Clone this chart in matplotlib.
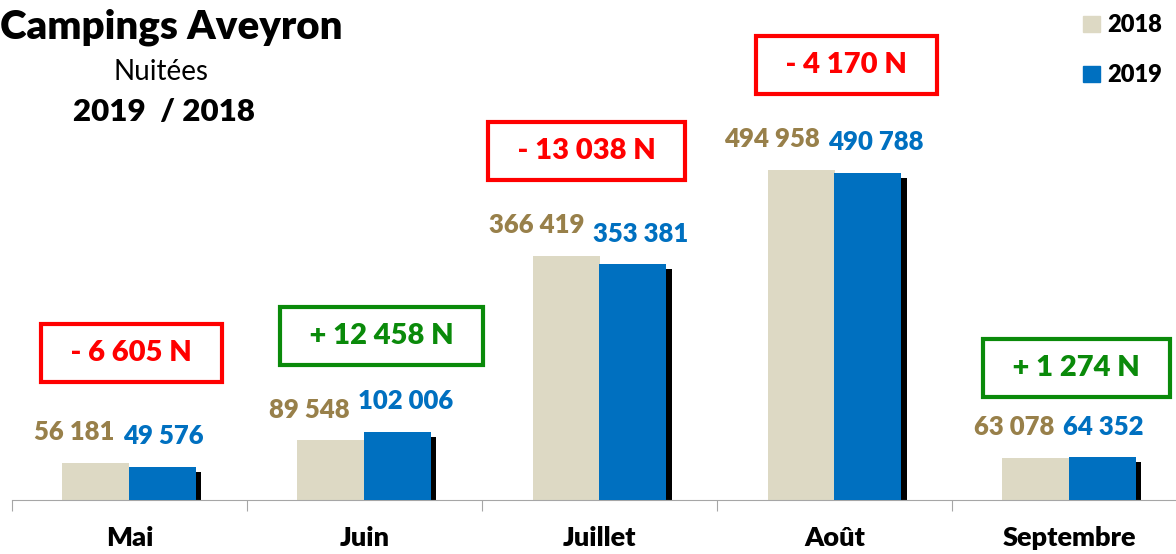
import numpy as np
import matplotlib.pyplot as plt
from matplotlib.patches import Patch

plt.rcParams['font.family'] = ['Lato', 'DejaVu Sans']

months = ['Mai', 'Juin', 'Juillet', 'Août', 'Septembre']
nuits_2018 = [56181, 89548, 366419, 494958, 63078]
nuits_2019 = [49576, 102006, 353381, 490788, 64352]

c2018 = '#DDD9C4'
c2019 = '#0070C0'
c_lab18 = '#98804A'
red = '#FF0000'
green = '#0A8A0A'
BOLD = 'heavy'

# where the difference boxes sit, in pixels from the category centre / taller bar
box_dx = [2, 17, -13, 12, 7]
box_lift = [110, 96, 105, 105, 89]


def fmt(v):
    return f"{v:,}".replace(',', ' ')


W, H = 1176, 554
fig = plt.figure(figsize=(W / 100, H / 100), dpi=100)
# baseline at y=500 px from top, 330 px for the Aout 2018 bar
px_y = 494958 / 330
px_x = 1 / 235
pt = 0.72  # points per pixel
ax = fig.add_axes([12 / W, 54 / H, (W - 12) / W, 500 / H])

x = np.arange(len(months))
bw = 67 * px_x
# shadow behind the bars
ax.bar(x + bw / 2 + 5 * px_x, np.array(nuits_2019) - 5 * px_y, bw, color='black', zorder=1)
ax.bar(x - bw / 2, nuits_2018, bw, color=c2018, zorder=2)
ax.bar(x + bw / 2, nuits_2019, bw, color=c2019, zorder=3)

for i, (a, b) in enumerate(zip(nuits_2018, nuits_2019)):
    ax.annotate(fmt(a), (i - 15 * px_x, a), xytext=(0, 22), textcoords='offset points',
                ha='right', va='center', fontsize=18.5, fontweight=BOLD, color=c_lab18,
                annotation_clip=False)
    ax.annotate(fmt(b), (i - 6 * px_x, b), xytext=(0, 22), textcoords='offset points',
                ha='left', va='center', fontsize=18.5, fontweight=BOLD, color=c2019,
                annotation_clip=False)
    d = b - a
    col = green if d > 0 else red
    txt = '  ' + ('+ ' if d > 0 else '- ') + fmt(abs(d)) + ' N  '
    ax.annotate(txt, (i, max(a, b)), xytext=(box_dx[i] * pt, box_lift[i] * pt),
                textcoords='offset points',
                ha='center', va='center', fontsize=21, fontweight=BOLD, color=col,
                annotation_clip=False,
                bbox=dict(boxstyle='square,pad=0.55', fc='white', ec=col, lw=3))

for s in ['top', 'right', 'left']:
    ax.spines[s].set_visible(False)
ax.spines['bottom'].set_color('#A6A6A6')
ax.set_yticks([])
ax.set_xticks(np.arange(-0.5, 5.5, 1))
ax.set_xticklabels([])
ax.tick_params(axis='x', which='major', length=8, color='#A6A6A6')
ax.set_xticks(x, minor=True)
ax.set_xticklabels(months, minor=True, fontsize=19.5, fontweight=BOLD)
ax.tick_params(axis='x', which='minor', length=0, pad=19)
ax.set_xlim(-0.5, -0.5 + (W - 12) * px_x)
ax.set_ylim(0, 500 * px_y)

fig.text(0, 1 - 27 / H, 'Campings Aveyron', fontsize=29, fontweight=BOLD,
         ha='left', va='center')
fig.text(161 / W, 1 - 72 / H, 'Nuitées', fontsize=20, ha='center', va='center')
fig.text(164 / W, 1 - 112 / H, '2019  / 2018', fontsize=22.5, fontweight=BOLD,
         ha='center', va='center')

handles = [Patch(color=c2018, label='2018'), Patch(color=c2019, label='2019')]
fig.legend(handles=handles, loc='upper right', bbox_to_anchor=(1.0, 1.0), frameon=False,
           handlelength=0.7, handleheight=0.7, handletextpad=0.3, labelspacing=1.2,
           prop={'weight': BOLD, 'size': 17}, borderaxespad=0.2)

fig.savefig('out.png', dpi=100)
